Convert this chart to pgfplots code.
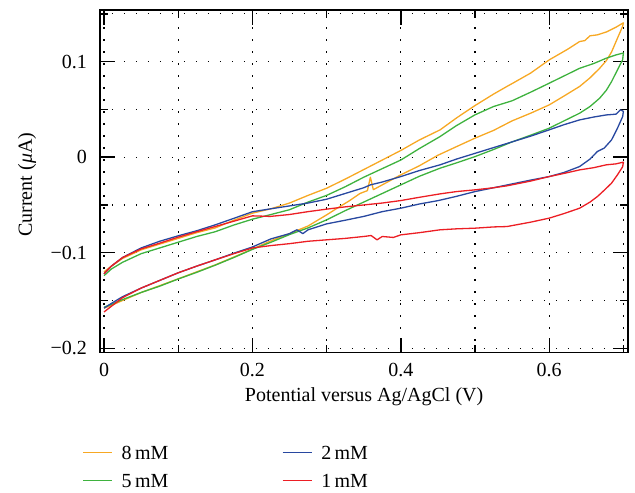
\documentclass[border=0pt]{standalone}
\usepackage{fontspec}
\setmainfont{Liberation Serif}
\usepackage{pgfplots}
\pgfplotsset{compat=1.18}
\definecolor{c8}{RGB}{247,168,35}
\definecolor{c5}{RGB}{62,178,62}
\definecolor{c2}{RGB}{40,72,160}
\definecolor{c1}{RGB}{236,30,36}
\begin{document}
\begin{tikzpicture}
\begin{axis}[name=ax, scale only axis, width=264.15pt, height=171.35pt,
 xmin=-0.0054, xmax=0.7066, ymin=-0.2046, ymax=0.154,
 xtick={0,0.2,0.4,0.6}, xticklabels={0,0.2,0.4,0.6},
 minor xtick={0.1,0.3,0.5,0.7},
 ytick={-0.2,-0.1,0,0.1}, yticklabels={−0.2,−0.1,0,0.1},
 minor ytick={-0.15,-0.05,0.05,0.15},
 grid=both,
 major grid style={black, line width=0.6pt, dash pattern=on 0.7pt off 5.3pt},
 minor grid style={black, line width=0.6pt, dash pattern=on 0.7pt off 5.3pt},
 major tick length=7.5pt, minor tick length=4pt,
 axis line style={line width=0.8pt},
 tick style={black, line width=0.7pt},
 xticklabel style={yshift=-1.7pt},
 yticklabel style={xshift=-3pt},
 xlabel={Potential versus Ag/AgCl (V)},
 ylabel={Current (\textit{μ}A)},
 xlabel style={at={(axis description cs:0.5,-0.1284)}, anchor=center},
 ylabel style={at={(axis description cs:-0.138,0.49)}, anchor=center, rotate=0},
 legend columns=2, transpose legend,
 legend image code/.code={\draw[#1] (0pt,0pt) -- (14.5pt,0pt);},
 legend style={draw=none, fill=none, inner sep=0pt, anchor=north west,
   at={(axis description cs:0,0)}, xshift=-9pt, yshift=-46.3pt,
   nodes={inner sep=0pt, text height=7pt, text depth=0pt},
   row sep=7pt,
   /tikz/every odd column/.append style={column sep=4.5pt},
   /tikz/every even column/.append style={column sep=56.8pt}},
 legend cell align=left,
 every axis plot/.append style={line width=0.65pt, line join=round},
]
\addplot[c8] coordinates {
(0,-0.158)(0.01,-0.155)(0.025,-0.150)(0.05,-0.1416)(0.075,-0.1345)(0.1,-0.1273)(0.125,-0.120)(0.15,-0.1127)(0.175,-0.1045)(0.2,-0.0962)(0.225,-0.0875)(0.25,-0.080)(0.275,-0.072)(0.3,-0.0604)(0.315,-0.053)(0.33,-0.046)(0.345,-0.038)(0.355,-0.035)(0.359,-0.021)(0.363,-0.034)(0.375,-0.029)(0.4,-0.0185)(0.425,-0.009)(0.45,0.002)(0.475,0.011)(0.5,0.0199)(0.525,0.028)(0.55,0.038)(0.575,0.046)(0.6,0.0547)(0.62,0.064)(0.641,0.074)(0.655,0.083)(0.668,0.093)(0.677,0.101)(0.684,0.110)(0.692,0.1245)(0.699,0.137)
(0.700,0.1406)(0.69,0.136)(0.677,0.131)(0.665,0.128)(0.655,0.127)(0.648,0.122)(0.641,0.121)(0.625,0.113)(0.6,0.1018)(0.575,0.088)(0.55,0.077)(0.543,0.074)(0.525,0.066)(0.5,0.054)(0.475,0.041)(0.453,0.0286)(0.425,0.018)(0.4,0.007)(0.375,-0.003)(0.35,-0.013)(0.325,-0.023)(0.3,-0.0325)(0.275,-0.040)(0.25,-0.048)(0.225,-0.054)(0.2,-0.0586)(0.175,-0.066)(0.15,-0.074)(0.125,-0.079)(0.1,-0.085)(0.075,-0.091)(0.05,-0.097)(0.025,-0.106)(0.01,-0.114)(0,-0.120)
};
\addlegendentry{8\,mM}
\addplot[c5] coordinates {
(0,-0.157)(0.01,-0.154)(0.025,-0.149)(0.05,-0.1416)(0.075,-0.135)(0.1,-0.1275)(0.125,-0.1205)(0.15,-0.113)(0.175,-0.105)(0.2,-0.0965)(0.225,-0.089)(0.25,-0.081)(0.275,-0.074)(0.3,-0.0656)(0.325,-0.056)(0.35,-0.047)(0.375,-0.038)(0.4,-0.029)(0.425,-0.020)(0.453,-0.0115)(0.475,-0.006)(0.5,0.0006)(0.525,0.008)(0.55,0.016)(0.575,0.023)(0.6,0.0303)(0.62,0.038)(0.641,0.046)(0.655,0.053)(0.668,0.0617)(0.677,0.070)(0.684,0.079)(0.692,0.0913)(0.699,0.102)
(0.700,0.109)(0.69,0.107)(0.677,0.1036)(0.66,0.098)(0.641,0.093)(0.62,0.085)(0.6,0.0774)(0.575,0.068)(0.55,0.059)(0.525,0.053)(0.5,0.0443)(0.475,0.033)(0.453,0.0216)(0.425,0.009)(0.4,-0.003)(0.375,-0.012)(0.35,-0.021)(0.325,-0.031)(0.3,-0.040)(0.275,-0.047)(0.25,-0.055)(0.225,-0.060)(0.2,-0.0649)(0.175,-0.071)(0.15,-0.078)(0.125,-0.083)(0.1,-0.089)(0.075,-0.095)(0.05,-0.101)(0.025,-0.110)(0.01,-0.117)(0,-0.124)
};
\addlegendentry{5\,mM}
\addplot[c2] coordinates {
(0,-0.158)(0.01,-0.153)(0.025,-0.146)(0.05,-0.137)(0.075,-0.129)(0.1,-0.121)(0.125,-0.114)(0.15,-0.1074)(0.175,-0.1005)(0.2,-0.094)(0.225,-0.0855)(0.25,-0.080)(0.26,-0.076)(0.268,-0.080)(0.275,-0.076)(0.3,-0.0698)(0.325,-0.066)(0.35,-0.062)(0.375,-0.057)(0.4,-0.0534)(0.425,-0.049)(0.45,-0.0455)(0.475,-0.041)(0.5,-0.036)(0.525,-0.032)(0.55,-0.028)(0.575,-0.024)(0.6,-0.0203)(0.62,-0.016)(0.641,-0.0098)(0.655,-0.002)(0.665,0.006)(0.674,0.0094)(0.684,0.018)(0.692,0.0303)(0.699,0.0425)
(0.700,0.048)(0.696,0.0495)(0.69,0.045)(0.677,0.0442)(0.66,0.042)(0.641,0.039)(0.62,0.034)(0.6,0.0286)(0.575,0.022)(0.55,0.016)(0.525,0.010)(0.5,0.004)(0.475,-0.002)(0.453,-0.008)(0.425,-0.014)(0.4,-0.0203)(0.375,-0.026)(0.359,-0.029)(0.35,-0.032)(0.325,-0.038)(0.3,-0.044)(0.275,-0.048)(0.25,-0.051)(0.225,-0.054)(0.2,-0.0571)(0.175,-0.064)(0.15,-0.0708)(0.125,-0.077)(0.1,-0.0823)(0.075,-0.088)(0.05,-0.095)(0.025,-0.105)(0.01,-0.114)(0,-0.122)
};
\addlegendentry{2\,mM}
\addplot[c1] coordinates {
(0,-0.162)(0.01,-0.156)(0.025,-0.147)(0.05,-0.137)(0.075,-0.129)(0.1,-0.121)(0.125,-0.114)(0.15,-0.1074)(0.175,-0.101)(0.2,-0.095)(0.225,-0.0925)(0.25,-0.0905)(0.275,-0.088)(0.3,-0.0865)(0.325,-0.085)(0.35,-0.083)(0.36,-0.082)(0.368,-0.0865)(0.375,-0.083)(0.39,-0.084)(0.4,-0.0813)(0.425,-0.079)(0.453,-0.076)(0.475,-0.075)(0.5,-0.0743)(0.525,-0.073)(0.543,-0.0726)(0.575,-0.068)(0.6,-0.0638)(0.62,-0.059)(0.641,-0.0534)(0.655,-0.047)(0.665,-0.0412)(0.675,-0.034)(0.684,-0.0272)(0.692,-0.0185)(0.699,-0.010)
(0.700,-0.0052)(0.69,-0.007)(0.677,-0.008)(0.66,-0.011)(0.641,-0.0133)(0.62,-0.017)(0.6,-0.0203)(0.575,-0.025)(0.543,-0.030)(0.525,-0.032)(0.5,-0.0342)(0.475,-0.036)(0.453,-0.0384)(0.425,-0.042)(0.4,-0.0454)(0.375,-0.048)(0.35,-0.050)(0.325,-0.052)(0.3,-0.0544)(0.275,-0.057)(0.25,-0.060)(0.224,-0.062)(0.2,-0.0614)(0.175,-0.067)(0.15,-0.0725)(0.125,-0.078)(0.1,-0.0837)(0.075,-0.090)(0.05,-0.096)(0.025,-0.105)(0.01,-0.114)(0,-0.122)
};
\addlegendentry{1\,mM}
\end{axis}
\path[use as bounding box] ([shift={(-50pt,-70.15pt)}]ax.south west) rectangle ([shift={(3.35pt,5pt)}]ax.north east);
\end{tikzpicture}
\end{document}
